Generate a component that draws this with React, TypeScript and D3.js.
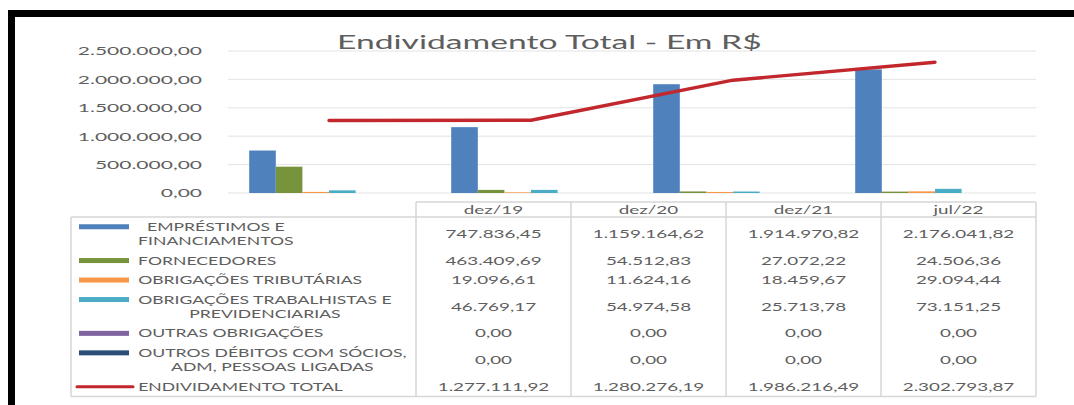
import React, { useEffect, useRef } from "react";
import * as d3 from "d3";

const categories = ["dez/19", "dez/20", "dez/21", "jul/22"];
const emprestimos = [747836.45, 1159164.62, 1914970.82, 2176041.82];
const fornecedores = [463409.69, 54512.83, 27072.22, 24506.36];
const tributarias = [19096.61, 11624.16, 18459.67, 29094.44];
const trabalhistas = [46769.17, 54974.58, 25713.78, 73151.25];
const outrasObrigacoes = [0, 0, 0, 0];
const outrosDebitos = [0, 0, 0, 0];
const endividamentoTotal = [1277111.92, 1280276.19, 1986216.49, 2302793.87];

const seriesLabels = [
  [" EMPRÉSTIMOS E", "FINANCIAMENTOS"],
  ["FORNECEDORES"],
  ["OBRIGAÇÕES TRIBUTÁRIAS"],
  ["OBRIGAÇÕES TRABALHISTAS E", "PREVIDENCIARIAS"],
  ["OUTRAS OBRIGAÇÕES"],
  ["OUTROS DÉBITOS COM SÓCIOS,", "ADM, PESSOAS LIGADAS"],
  ["ENDIVIDAMENTO TOTAL"],
];
const yTicks = [0, 500000, 1000000, 1500000, 2000000, 2500000];
const chartTitle = "Endividamento Total - Em R$";

const barColors = ["#4f81bd", "#77933c", "#f79646", "#4bacc6", "#8064a2", "#2c4d75"];
const lineColor = "#c1272d";

const locale = d3.formatLocale({
  decimal: ",",
  thousands: ".",
  grouping: [3],
  currency: ["R$", ""],
});
const fmt = locale.format(",.2f");

export default function App() {
  const ref = useRef<SVGSVGElement | null>(null);

  useEffect(() => {
    const svg = d3.select(ref.current);
    svg.selectAll("*").remove();
    const FONT = "Lato, 'Open Sans', sans-serif";
    const TXT = "#5e5e5e";
    const plot = { left: 228, right: 1036, top: 51, bottom: 193 };

    // frame
    svg.append("rect").attr("x", 0).attr("y", 0).attr("width", 1074).attr("height", 405).attr("fill", "#fff");
    svg.append("rect").attr("x", 8).attr("y", 10).attr("width", 1066).attr("height", 7).attr("fill", "#000");
    svg.append("rect").attr("x", 8).attr("y", 10).attr("width", 7).attr("height", 395).attr("fill", "#000");

    const x = d3
      .scaleBand<string>()
      .domain(categories)
      .range([plot.left, plot.right])
      .paddingInner(0.21)
      .paddingOuter(0.105);
    const y = d3.scaleLinear().domain([0, 2500000]).range([plot.bottom, plot.top]);
    const barSeries = [emprestimos, fornecedores, tributarias, trabalhistas, outrasObrigacoes, outrosDebitos];
    const xs = d3
      .scaleBand<number>()
      .domain(d3.range(barSeries.length))
      .range([0, x.bandwidth()]);

    // gridlines
    svg
      .append("g")
      .selectAll("line")
      .data(yTicks)
      .join("line")
      .attr("x1", plot.left)
      .attr("x2", plot.right)
      .attr("y1", (d) => y(d))
      .attr("y2", (d) => y(d))
      .attr("stroke", "#e3e3e3")
      .attr("stroke-width", 1);

    // y labels
    svg
      .append("g")
      .selectAll("text")
      .data(yTicks)
      .join("text")
      .attr("transform", (d) => `translate(202,${y(d)}) scale(1.75,1)`)
      .attr("text-anchor", "end")
      .attr("dy", "0.36em")
      .attr("font-family", FONT)
      .attr("font-size", 12)
      .attr("fill", TXT)
      .text((d) => fmt(d));

    // title
    svg
      .append("text")
      .attr("transform", `translate(337,48.5) scale(1.77,1)`)
      .attr("font-family", FONT)
      .attr("font-size", 19)
      .attr("fill", TXT)
      .text(chartTitle);

    // bars
    barSeries.forEach((vals, i) => {
      svg
        .append("g")
        .selectAll("rect")
        .data(vals)
        .join("rect")
        .attr("x", (d, j) => (x(categories[j]) as number) + (xs(i) as number))
        .attr("y", (d) => y(d))
        .attr("width", xs.bandwidth())
        .attr("height", (d) => y(0) - y(d))
        .attr("fill", barColors[i]);
    });

    // line
    const line = d3
      .line<number>()
      .x((d, j) => (x(categories[j]) as number) + x.bandwidth() / 2)
      .y((d) => y(d));
    svg
      .append("path")
      .attr("d", line(endividamentoTotal) as string)
      .attr("fill", "none")
      .attr("stroke", lineColor)
      .attr("stroke-width", 3.4)
      .attr("stroke-linecap", "round")
      .attr("stroke-linejoin", "round");

    // data table
    const tx = d3.scaleBand<string>().domain(categories).range([416, plot.right]);
    const headerTop = 202;
    const bodyTop = 217;
    const tableLeft = 71;
    const lineStep = 14.3;
    let acc = bodyTop;
    const rows = seriesLabels.map((lines) => {
      const h = 5.2 + lineStep * lines.length;
      const r = { top: acc, h, mid: acc + h / 2 };
      acc += h;
      return r;
    });
    const bodyBottom = acc;
    const border = "#d6d6d6";
    const tg = svg.append("g").attr("stroke", border).attr("stroke-width", 1.5);
    tg.append("line").attr("x1", 416).attr("x2", plot.right).attr("y1", headerTop).attr("y2", headerTop);
    tg.append("line").attr("x1", tableLeft).attr("x2", plot.right).attr("y1", bodyTop).attr("y2", bodyTop);
    tg.append("line").attr("x1", tableLeft).attr("x2", plot.right).attr("y1", bodyBottom).attr("y2", bodyBottom);
    tg.append("line").attr("x1", tableLeft).attr("x2", tableLeft).attr("y1", bodyTop).attr("y2", bodyBottom);
    const bounds = categories.map((c) => tx(c) as number).concat([plot.right]);
    tg.selectAll("line.v")
      .data(bounds)
      .join("line")
      .attr("class", "v")
      .attr("x1", (d) => d)
      .attr("x2", (d) => d)
      .attr("y1", headerTop)
      .attr("y2", bodyBottom);

    const SX = 1.64;
    const LSX = 1.6;
    // header
    svg
      .append("g")
      .selectAll("text")
      .data(categories)
      .join("text")
      .attr("transform", (d) => `translate(${(tx(d) as number) + tx.bandwidth() / 2},${(headerTop + bodyTop) / 2}) scale(${SX},1)`)
      .attr("text-anchor", "middle")
      .attr("dy", "0.36em")
      .attr("font-family", FONT)
      .attr("font-size", 11.5)
      .attr("fill", TXT)
      .text((d) => d);

    // values
    const tableSeries = [...barSeries, endividamentoTotal];
    tableSeries.forEach((vals, i) => {
      svg
        .append("g")
        .selectAll("text")
        .data(vals)
        .join("text")
        .attr("transform", (d, j) => `translate(${(tx(categories[j]) as number) + tx.bandwidth() / 2},${rows[i].mid}) scale(${SX},1)`)
        .attr("text-anchor", "middle")
        .attr("dy", "0.36em")
        .attr("font-family", FONT)
        .attr("font-size", 11.5)
        .attr("fill", TXT)
        .text((d) => fmt(d));
    });

    // legend keys + labels
    const labelX = 138;
    seriesLabels.forEach((lines, i) => {
      const r = rows[i];
      const firstY = r.mid - ((lines.length - 1) * lineStep) / 2;
      if (i < barSeries.length) {
        svg
          .append("rect")
          .attr("x", 79)
          .attr("y", firstY - 2.5)
          .attr("width", 50)
          .attr("height", 5)
          .attr("fill", barColors[i]);
      } else {
        svg
          .append("line")
          .attr("x1", 77)
          .attr("x2", 133)
          .attr("y1", firstY)
          .attr("y2", firstY)
          .attr("stroke", lineColor)
          .attr("stroke-width", 3)
          .attr("stroke-linecap", "round");
      }
      const g = svg.append("g");
      const texts = g
        .selectAll("text")
        .data(lines)
        .join("text")
        .attr("font-family", FONT)
        .attr("font-size", 11)
        .attr("fill", TXT)
        .attr("dy", "0.36em")
        .attr("text-anchor", "middle")
        .text((d) => d);
      let maxW = 0;
      texts.each(function () {
        const w = (this as SVGTextElement).getComputedTextLength();
        if (w > maxW) maxW = w;
      });
      const cx = labelX + (maxW * LSX) / 2;
      texts.attr("transform", (d, k) => `translate(${cx},${firstY + k * lineStep}) scale(${LSX},1)`);
    });
  }, []);

  return (
    <svg
      ref={ref}
      width={1074}
      height={405}
      style={{ position: "absolute", left: 0, top: 0, display: "block" }}
    />
  );
}
